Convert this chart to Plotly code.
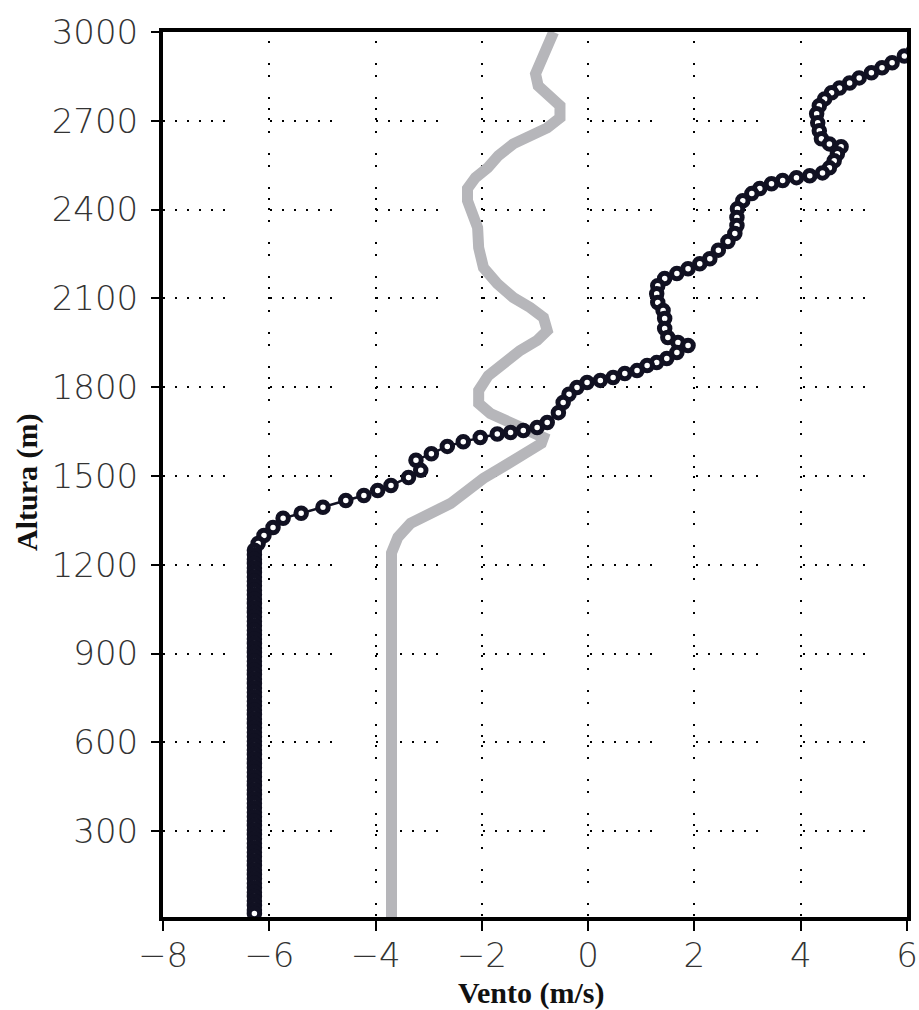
import plotly.graph_objects as go

# ---- data ----
# black profile (open circles): wind (m/s) vs height (m)
black_wind = [6.12, 5.95, 5.72, 5.53, 5.33, 5.10, 4.92, 4.73, 4.58, 4.45, 4.35, 4.30, 4.32, 4.35, 4.39,
              4.54, 4.76, 4.69, 4.63, 4.54, 4.41, 4.17, 3.92, 3.66, 3.45, 3.23, 3.08, 2.91, 2.81, 2.80,
              2.80, 2.76, 2.63, 2.45, 2.29, 2.10, 1.88, 1.67, 1.44, 1.31, 1.29, 1.31, 1.41, 1.44, 1.44,
              1.50, 1.69, 1.88, 1.67, 1.48, 1.29, 1.11, 0.92, 0.69, 0.47, 0.23, -0.02, -0.21, -0.36,
              -0.47, -0.56, -0.77, -0.96, -1.22, -1.46, -1.71, -2.03, -2.35, -2.65, -2.95, -3.24, -3.15,
              -3.38, -3.71, -3.96, -4.22, -4.56, -4.99, -5.40, -5.74, -5.93, -6.10, -6.21, -6.28,
              -6.28, -6.28, -6.28, -6.28, -6.28, -6.28, -6.28, -6.28, -6.28, -6.28,
              -6.28, -6.28, -6.28, -6.28, -6.28, -6.28, -6.28, -6.28, -6.28, -6.28,
              -6.28, -6.28, -6.28, -6.28, -6.28, -6.28, -6.28, -6.28, -6.28, -6.28,
              -6.28, -6.28, -6.28, -6.28, -6.28, -6.28, -6.28, -6.28, -6.28, -6.28,
              -6.28, -6.28, -6.28, -6.28, -6.28, -6.28, -6.28, -6.28, -6.28, -6.28,
              -6.28, -6.28, -6.28, -6.28, -6.28, -6.28, -6.28, -6.28, -6.28, -6.28,
              -6.28, -6.28, -6.28, -6.28, -6.28, -6.28, -6.28, -6.28, -6.28, -6.28,
              -6.28, -6.28, -6.28, -6.28, -6.28, -6.28, -6.28, -6.28, -6.28, -6.28,
              -6.28, -6.28]
black_height = [2936, 2919, 2896, 2879, 2862, 2845, 2828, 2811, 2795, 2774, 2751, 2724, 2693, 2666, 2639,
                2622, 2612, 2589, 2565, 2541, 2524, 2514, 2508, 2498, 2487, 2471, 2454, 2430, 2403, 2373,
                2346, 2319, 2292, 2263, 2234, 2217, 2200, 2184, 2167, 2143, 2116, 2086, 2059, 2032, 1998,
                1968, 1951, 1941, 1917, 1897, 1883, 1873, 1856, 1846, 1833, 1823, 1816, 1799, 1776,
                1748, 1714, 1681, 1664, 1654, 1647, 1642, 1630, 1616, 1600, 1575, 1553, 1519,
                1495, 1468, 1451, 1434, 1417, 1394, 1374, 1357, 1326, 1299, 1272, 1249,
                1234, 1219, 1204, 1189, 1174, 1159, 1144, 1129, 1114, 1099,
                1084, 1069, 1054, 1039, 1024, 1009, 994, 979, 964, 949,
                934, 919, 904, 889, 874, 859, 844, 829, 814, 799,
                784, 769, 754, 739, 724, 709, 694, 679, 664, 649,
                634, 619, 604, 589, 574, 559, 544, 529, 514, 499,
                484, 469, 454, 439, 424, 409, 394, 379, 364, 349,
                334, 319, 304, 289, 274, 259, 244, 229, 214, 199,
                184, 169, 154, 139, 124, 109, 94, 79, 64, 49,
                34, 22]

# grey profile (thick line)
grey_wind = [-0.65, -0.77, -0.90, -0.99, -0.94, -0.71, -0.53, -0.53, -0.77, -1.09, -1.41, -1.69, -1.89,
             -2.12, -2.27, -2.27, -2.18, -2.08, -2.06, -1.97, -1.71, -1.41, -1.09, -0.84, -0.77, -0.96,
             -1.28, -1.59, -1.88, -2.06, -2.06, -1.84, -1.46, -1.09, -0.84, -0.88, -1.13, -1.33, -1.65,
             -1.97, -2.27, -2.59, -2.96, -3.34, -3.58, -3.68, -3.70, -3.70, -3.70, -3.70, -3.70,
             -3.70, -3.70]
grey_height = [3000, 2946, 2903, 2859, 2818, 2784, 2751, 2710, 2676, 2649, 2622, 2582, 2541,
               2508, 2471, 2430, 2386, 2339, 2271, 2204, 2150, 2103, 2069, 2035, 1991, 1958,
               1924, 1883, 1839, 1789, 1745, 1711, 1681, 1654, 1630, 1610, 1586, 1559, 1526,
               1492, 1451, 1407, 1374, 1340, 1293, 1259, 1240, 1000, 800, 600, 400,
               200, 10]

x_ticks = [-8, -6, -4, -2, 0, 2, 4, 6]
y_ticks = [300, 600, 900, 1200, 1500, 1800, 2100, 2400, 2700, 3000]

fig = go.Figure()
fig.add_trace(go.Scatter(x=grey_wind, y=grey_height, mode="lines",
                         line=dict(color="#b6b6ba", width=11), showlegend=False))
fig.add_trace(go.Scatter(x=black_wind, y=black_height, mode="lines+markers",
                         line=dict(color="#111122", width=2.5),
                         marker=dict(symbol="circle", size=10.5, color="white",
                                     line=dict(color="#111122", width=5)),
                         showlegend=False))

tick_font = dict(family="DejaVu Sans ExtraLight, DejaVu Sans", size=34, color="#333333", weight=200)
h_dash = "2px,10px,2px,10px,2px,10px,2px,10px,2px,10px,2px,44.7px"
v_dash = "0px,9px,2px,20px,2px,10px,2px,20px,2px,9px,2px,8px,2px,1.5px"

fig.update_xaxes(range=[-8, 6], tickvals=x_ticks, ticktext=[f"{v}".replace("-", "\u2212") for v in x_ticks],
                 ticks="outside", ticklen=10, tickwidth=2, tickcolor="black",
                 showline=True, linewidth=4, linecolor="black", mirror=True,
                 showgrid=True, gridcolor="black", gridwidth=2, griddash=v_dash,
                 zeroline=False, tickfont=tick_font, automargin=False, ticklabelstandoff=-5)
fig.update_yaxes(range=[10, 3000], tickvals=y_ticks,
                 ticks="outside", ticklen=8, tickwidth=2, tickcolor="black",
                 showline=True, linewidth=4, linecolor="black", mirror=True,
                 showgrid=True, gridcolor="black", gridwidth=2, griddash=h_dash,
                 zeroline=False, tickfont=tick_font, ticklabelstandoff=6, automargin=False)

title_font = dict(family="Liberation Serif", size=30, color="#111111", weight="bold")
fig.add_annotation(text="Vento (m/s)", xref="paper", yref="paper", x=0.4946, y=-0.0859,
                   xanchor="center", yanchor="middle", showarrow=False, font=title_font)
fig.add_annotation(text="Altura (m)", xref="paper", yref="paper", x=-0.1828, y=0.4915,
                   xanchor="center", yanchor="middle", textangle=-90, showarrow=False, font=title_font)

fig.update_layout(width=919, height=1010, margin=dict(l=163, r=12, t=32, b=93),
                  plot_bgcolor="white", paper_bgcolor="white")

fig.write_html("out.html")
